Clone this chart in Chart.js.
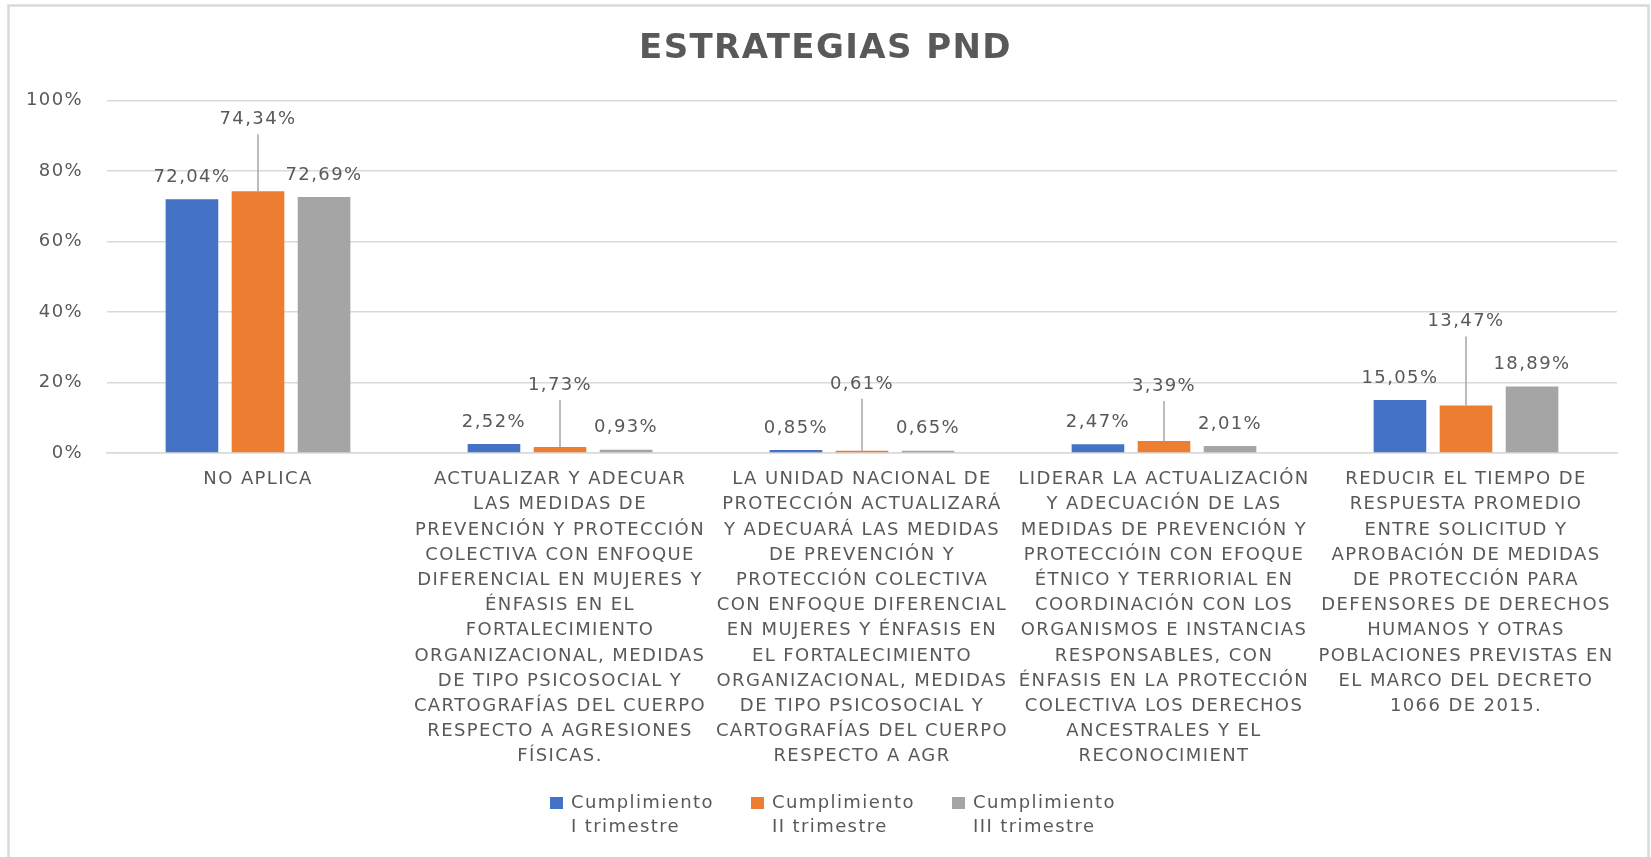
<!DOCTYPE html>
<html lang="es">
<head>
<meta charset="utf-8">
<title>Estrategias PND</title>
<script src="https://cdn.jsdelivr.net/npm/chart.js@4.4.1/dist/chart.umd.min.js"></script>
<style>
  html, body { margin: 0; padding: 0; background: #fff; }
  #wrap { width: 1651px; height: 857px; }
</style>
</head>
<body>
<div id="wrap"><canvas id="chart" width="1651" height="857"></canvas></div>
<script>
const CATEGORIES = [
  ['NO APLICA'],
  ['ACTUALIZAR Y ADECUAR', 'LAS MEDIDAS DE', 'PREVENCIÓN Y PROTECCIÓN', 'COLECTIVA CON ENFOQUE',
   'DIFERENCIAL EN MUJERES Y', 'ÉNFASIS EN EL', 'FORTALECIMIENTO', 'ORGANIZACIONAL, MEDIDAS',
   'DE TIPO PSICOSOCIAL Y', 'CARTOGRAFÍAS DEL CUERPO', 'RESPECTO A AGRESIONES', 'FÍSICAS.'],
  ['LA UNIDAD NACIONAL DE', 'PROTECCIÓN ACTUALIZARÁ', 'Y ADECUARÁ LAS MEDIDAS', 'DE PREVENCIÓN Y',
   'PROTECCIÓN COLECTIVA', 'CON ENFOQUE DIFERENCIAL', 'EN MUJERES Y ÉNFASIS EN', 'EL FORTALECIMIENTO',
   'ORGANIZACIONAL, MEDIDAS', 'DE TIPO PSICOSOCIAL Y', 'CARTOGRAFÍAS DEL CUERPO', 'RESPECTO A AGR'],
  ['LIDERAR LA ACTUALIZACIÓN', 'Y ADECUACIÓN DE LAS', 'MEDIDAS DE PREVENCIÓN Y', 'PROTECCIÓIN CON EFOQUE',
   'ÉTNICO Y TERRIORIAL EN', 'COORDINACIÓN CON LOS', 'ORGANISMOS E INSTANCIAS', 'RESPONSABLES, CON',
   'ÉNFASIS EN LA PROTECCIÓN', 'COLECTIVA LOS DERECHOS', 'ANCESTRALES Y EL', 'RECONOCIMIENT'],
  ['REDUCIR EL TIEMPO DE', 'RESPUESTA PROMEDIO', 'ENTRE SOLICITUD Y', 'APROBACIÓN DE MEDIDAS',
   'DE PROTECCIÓN PARA', 'DEFENSORES DE DERECHOS', 'HUMANOS Y OTRAS', 'POBLACIONES PREVISTAS EN',
   'EL MARCO DEL DECRETO', '1066 DE 2015.']
];

const SERIES_NAMES = [
  ['Cumplimiento', 'I trimestre'],
  ['Cumplimiento', 'II trimestre'],
  ['Cumplimiento', 'III trimestre']
];

const TRIM_1 = [72.04, 2.52, 0.85, 2.47, 15.05];
const TRIM_2 = [74.34, 1.73, 0.61, 3.39, 13.47];
const TRIM_3 = [72.69, 0.93, 0.65, 2.01, 18.89];

const Y_TICKS = [0, 20, 40, 60, 80, 100];

const COLORS = ['#4472C4', '#ED7D31', '#A5A5A5'];
const TEXT = '#595959';
const GRID = '#D9D9D9';
const FONT = '"DejaVu Sans", sans-serif';
const SPACING = '1.4px';

// the II trimestre labels were dragged up in the original, with leader lines
const LABEL_LIFT = 22;
const LEADER_LIFT = [72, 62, 67, 55, 84];

const fmtPct = v => v.toFixed(2).replace('.', ',') + '%';

Chart.defaults.font.family = FONT;
Chart.defaults.color = TEXT;

const spacingPlugin = {
  id: 'spacing',
  beforeUpdate(chart) { chart.ctx.letterSpacing = SPACING; },
  afterLayout(chart) {
    // centre the title the way Excel does, ignoring the axis-label margin
    if (chart.titleBlock) chart.titleBlock.left = 34;
  },
  beforeDraw(chart) {
    chart.ctx.letterSpacing = SPACING;
    const ctx = chart.ctx;
    ctx.save();
    ctx.strokeStyle = GRID;
    ctx.lineWidth = 2.5;
    ctx.strokeRect(8.5, 5.5, chart.width - 11, chart.height + 20);
    ctx.restore();
  }
};

const valuesPlugin = {
  id: 'barValues',
  afterDatasetsDraw(chart) {
    const ctx = chart.ctx;
    ctx.save();
    ctx.font = '18px ' + FONT;
    ctx.textAlign = 'center';
    ctx.textBaseline = 'middle';
    chart.data.datasets.forEach((ds, di) => {
      chart.getDatasetMeta(di).data.forEach((bar, i) => {
        let y = bar.y - LABEL_LIFT;
        if (di === 1) {
          y = bar.y - LEADER_LIFT[i];
          ctx.strokeStyle = '#A6A6A6';
          ctx.lineWidth = 1.5;
          ctx.beginPath();
          ctx.moveTo(bar.x, y + 15);
          ctx.lineTo(bar.x, bar.y);
          ctx.stroke();
        }
        ctx.fillStyle = TEXT;
        ctx.fillText(fmtPct(ds.data[i]), bar.x, y);
      });
    });
    ctx.restore();
  }
};

const legendPlugin = {
  id: 'twoLineLegend',
  afterDraw(chart) {
    const ctx = chart.ctx;
    const pitch = 201;
    const itemW = 165;
    const total = pitch * (chart.data.datasets.length - 1) + itemW;
    const startX = chart.width / 2 + 8 - total / 2;
    const top = 803;
    ctx.save();
    ctx.font = '18px ' + FONT;
    ctx.textAlign = 'left';
    ctx.textBaseline = 'middle';
    chart.data.datasets.forEach((ds, i) => {
      const x = startX + i * pitch;
      ctx.fillStyle = ds.backgroundColor;
      ctx.fillRect(x, top - 6, 13, 12);
      ctx.fillStyle = TEXT;
      ds.label.forEach((line, j) => ctx.fillText(line, x + 21, top + j * 24));
    });
    ctx.restore();
  }
};

const datasets = [TRIM_1, TRIM_2, TRIM_3].map((values, i) => ({
  label: SERIES_NAMES[i],
  data: values,
  backgroundColor: COLORS[i],
  categoryPercentage: 0.656,
  barPercentage: 0.797
}));

new Chart(document.getElementById('chart'), {
  type: 'bar',
  data: { labels: CATEGORIES, datasets },
  plugins: [spacingPlugin, valuesPlugin, legendPlugin],
  options: {
    responsive: false,
    animation: false,
    layout: { padding: { left: 16, right: 34, top: 0, bottom: 70 } },
    scales: {
      x: {
        grid: { display: false, drawTicks: false },
        border: { display: true, color: GRID, width: 1.5 },
        ticks: {
          color: TEXT,
          font: { size: 18, lineHeight: 1.4 },
          padding: 14,
          autoSkip: false,
          maxRotation: 0,
          minRotation: 0
        },
        afterFit: scale => { scale.height = 857 - 70 - 453; }
      },
      y: {
        min: 0,
        max: 100,
        afterBuildTicks: scale => { scale.ticks = Y_TICKS.map(v => ({ value: v })); },
        grid: { color: GRID, lineWidth: 1.5, drawTicks: false },
        border: { display: false },
        ticks: {
          color: TEXT,
          font: { size: 18 },
          padding: 24,
          callback: v => v + '%'
        },
        afterFit: scale => { scale.width = 91; }
      }
    },
    plugins: {
      legend: { display: false },
      tooltip: { enabled: false },
      title: {
        display: true,
        text: 'ESTRATEGIAS PND',
        color: TEXT,
        font: { size: 34, weight: 'bold', lineHeight: 1.2 },
        padding: { top: 29, bottom: 31 }
      }
    }
  }
});
</script>
</body>
</html>
